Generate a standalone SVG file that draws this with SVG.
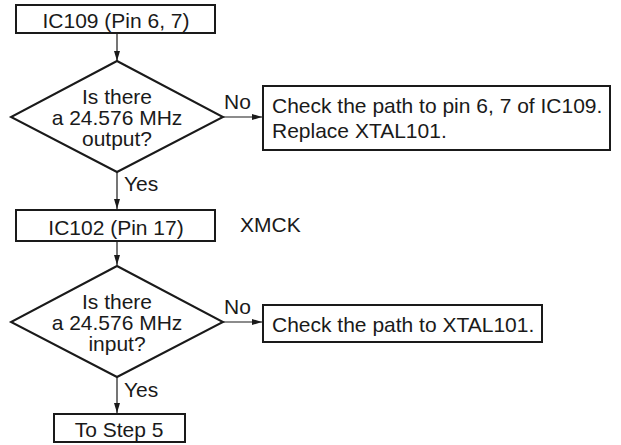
<svg xmlns="http://www.w3.org/2000/svg" width="621" height="445" viewBox="0 0 621 445">
<style>
.box{fill:#fff;stroke:#1a1a1a;stroke-width:2}
.t{font-family:"Liberation Sans",Arial,sans-serif;font-size:21px;fill:#1a1a1a}
.c{text-anchor:middle}
.ln{stroke:#1a1a1a;stroke-width:1.2;fill:none}
</style>
<defs>
<marker id="ah" viewBox="0 0 10 6" refX="10" refY="3" markerWidth="10" markerHeight="6" markerUnits="userSpaceOnUse" orient="auto">
<path d="M0,0 L10,3 L0,6 Z" fill="#1a1a1a"/>
</marker>
</defs>
<rect width="621" height="445" fill="#fff"/>
<g id="connectors">
<line class="ln" x1="117" y1="34" x2="117" y2="61" marker-end="url(#ah)"/>
<line class="ln" x1="223" y1="117" x2="262" y2="117" marker-end="url(#ah)"/>
<line class="ln" x1="117" y1="172" x2="117" y2="209" marker-end="url(#ah)"/>
<line class="ln" x1="117" y1="241" x2="117" y2="265" marker-end="url(#ah)"/>
<line class="ln" x1="223" y1="322" x2="262" y2="322" marker-end="url(#ah)"/>
<line class="ln" x1="117" y1="377" x2="117" y2="413" marker-end="url(#ah)"/>
<text class="t" x="224" y="109">No</text>
<text class="t" x="124" y="191">Yes</text>
<text class="t" x="224" y="314">No</text>
<text class="t" x="124" y="397">Yes</text>
</g>
<g id="n1">
<rect class="box" x="16" y="5" width="199" height="28"/>
<text class="t c" x="116" y="28">IC109 (Pin 6, 7)</text>
</g>
<g id="d1">
<polygon class="box" points="117,61 223,117 117,172 11,117"/>
<text class="t c" x="117" y="104">Is there</text>
<text class="t c" x="117" y="125">a 24.576 MHz</text>
<text class="t c" x="117" y="146">output?</text>
</g>
<g id="n2">
<rect class="box" x="263" y="86" width="347" height="64"/>
<text class="t" x="272" y="113">Check the path to pin 6, 7 of IC109.</text>
<text class="t" x="272" y="138">Replace XTAL101.</text>
</g>
<g id="n3">
<rect class="box" x="16" y="210" width="199" height="31"/>
<text class="t c" x="116" y="235">IC102 (Pin 17)</text>
</g>
<g id="lbl">
<text class="t" x="240" y="232">XMCK</text>
</g>
<g id="d2">
<polygon class="box" points="117,266 223,322 117,377 11,322"/>
<text class="t c" x="117" y="309">Is there</text>
<text class="t c" x="117" y="330">a 24.576 MHz</text>
<text class="t c" x="117" y="351">input?</text>
</g>
<g id="n4">
<rect class="box" x="263" y="305" width="279" height="37"/>
<text class="t" x="272" y="332">Check the path to XTAL101.</text>
</g>
<g id="n5">
<rect class="box" x="54" y="414" width="131" height="28"/>
<text class="t c" x="119" y="437">To Step 5</text>
</g>
</svg>
